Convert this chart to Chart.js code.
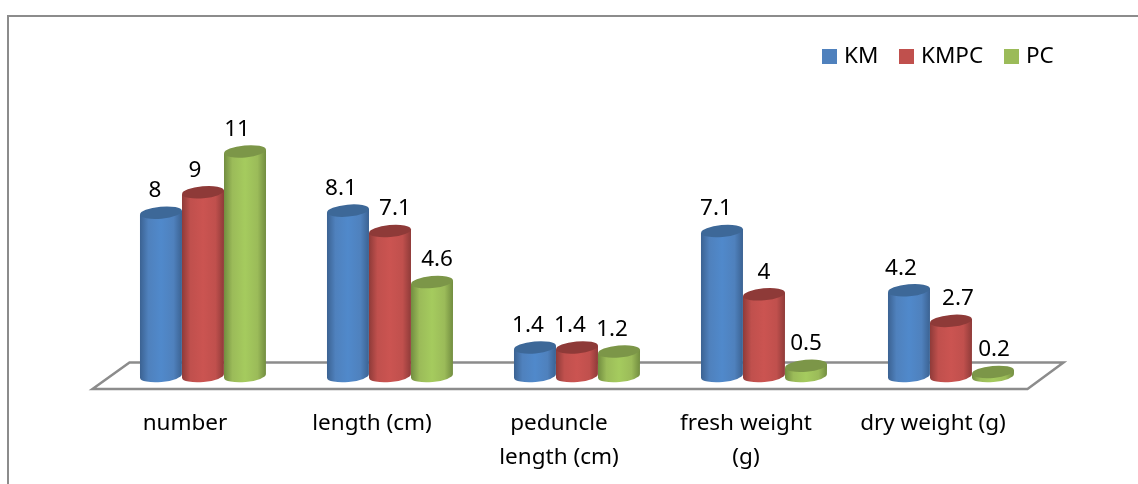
<!DOCTYPE html>
<html>
<head>
<meta charset="utf-8">
<script src="https://cdn.jsdelivr.net/npm/chart.js@4"></script>
<style>
html, body { margin: 0; padding: 0; background: #fff; overflow: hidden; }
canvas { display: block; }
</style>
</head>
<body>
<canvas id="myChart" width="1138" height="484"></canvas>
<script>
const categories = ['number', 'length (cm)', ['peduncle', 'length (cm)'], ['fresh weight', '(g)'], 'dry weight (g)'];
const seriesNames = ['KM', 'KMPC', 'PC'];
const kmValues = [8, 8.1, 1.4, 7.1, 4.2];
const kmpcValues = [9, 7.1, 1.4, 4, 2.7];
const pcValues = [11, 4.6, 1.2, 0.5, 0.2];

// colours per series: legend/centre, edge of the cylinder, top cap
const mainColors = ['#4f81bd', '#c0504d', '#9bbb59'];
const lightColors = ['#5089cb', '#cb5451', '#a5cb5e'];
const edgeColors = ['#3b6292', '#8f3b39', '#728d40'];
const capColors = ['#3d6898', '#8e3a38', '#7c9648'];
const labelFont = '22.5px "Noto Sans"';
const lineGrey = '#8c8c8c';

// sideways shift of each value label, the original moved them by hand
const labelShift = [[-6, -7, -7, -6, -8], [-8, 5, -7, 0, 7], [-8, 5, -7, 0, 1]];

const tilt = -0.09;
const capHeight = 6;

function drawCylinder(ctx, bar, index) {
    const r = bar.width / 2;
    const dy = Math.sin(-tilt) * r;
    const grad = ctx.createLinearGradient(bar.x - r, 0, bar.x + r, 0);
    grad.addColorStop(0, edgeColors[index]);
    grad.addColorStop(0.2, mainColors[index]);
    grad.addColorStop(0.5, lightColors[index]);
    grad.addColorStop(0.8, mainColors[index]);
    grad.addColorStop(1, edgeColors[index]);

    ctx.fillStyle = grad;
    ctx.beginPath();
    ctx.moveTo(bar.x - r, bar.y + dy);
    ctx.lineTo(bar.x - r, bar.base + dy);
    ctx.ellipse(bar.x, bar.base, r, capHeight, tilt, Math.PI, 0, true);
    ctx.lineTo(bar.x + r, bar.y - dy);
    ctx.closePath();
    ctx.fill();

    ctx.fillStyle = capColors[index];
    ctx.beginPath();
    ctx.ellipse(bar.x, bar.y, r, capHeight, tilt, 0, Math.PI * 2);
    ctx.fill();
}

const frameAndFloor = {
    id: 'frameAndFloor',
    beforeDraw(chart) {
        const ctx = chart.ctx;
        const area = chart.chartArea;
        ctx.save();
        ctx.strokeStyle = lineGrey;
        ctx.lineWidth = 2;
        ctx.beginPath();
        ctx.moveTo(8, chart.height);
        ctx.lineTo(8, 16);
        ctx.lineTo(chart.width, 16);
        ctx.stroke();

        ctx.lineWidth = 2.5;
        ctx.beginPath();
        ctx.moveTo(area.left - 17, area.bottom + 13);
        ctx.lineTo(area.right - 17, area.bottom + 13);
        ctx.lineTo(area.right + 19, area.bottom - 13.5);
        ctx.lineTo(area.left + 20, area.bottom - 13.5);
        ctx.closePath();
        ctx.stroke();
        ctx.restore();
    }
};

const cylinders = {
    id: 'cylinders',
    beforeDatasetDraw(chart, args) {
        const ctx = chart.ctx;
        ctx.save();
        args.meta.data.forEach(function (bar) {
            drawCylinder(ctx, bar, args.index);
        });
        ctx.restore();
        return false;
    },
    afterDatasetsDraw(chart) {
        const ctx = chart.ctx;
        ctx.save();
        ctx.font = labelFont;
        ctx.fillStyle = '#000';
        ctx.textAlign = 'center';
        ctx.textBaseline = 'middle';
        chart.data.datasets.forEach(function (ds, i) {
            chart.getDatasetMeta(i).data.forEach(function (bar, j) {
                ctx.fillText(String(ds.data[j]), bar.x + labelShift[i][j], bar.y - 22);
            });
        });
        ctx.restore();
    }
};

const sideLegend = {
    id: 'sideLegend',
    afterDraw(chart) {
        const ctx = chart.ctx;
        const boxX = [822, 899, 1004];
        ctx.save();
        ctx.font = labelFont;
        ctx.textBaseline = 'middle';
        chart.data.datasets.forEach(function (ds, i) {
            ctx.fillStyle = mainColors[i];
            ctx.fillRect(boxX[i], 49, 15, 15);
            ctx.fillStyle = '#000';
            ctx.fillText(ds.label, boxX[i] + 22, 57);
        });
        ctx.restore();
    }
};

const myChart = new Chart(document.getElementById('myChart'), {
    type: 'bar',
    data: {
        labels: categories,
        datasets: [
            { label: seriesNames[0], data: kmValues, backgroundColor: mainColors[0] },
            { label: seriesNames[1], data: kmpcValues, backgroundColor: mainColors[1] },
            { label: seriesNames[2], data: pcValues, backgroundColor: mainColors[2] }
        ]
    },
    options: {
        responsive: false,
        animation: false,
        categoryPercentage: 0.674,
        barPercentage: 1,
        layout: { padding: { left: 109.5, right: 93.5, top: 131, bottom: 0 } },
        plugins: { legend: { display: false }, tooltip: { enabled: false } },
        scales: {
            x: {
                grid: { display: false },
                border: { display: false },
                afterFit(scale) { scale.height = 108; },
                ticks: {
                    color: '#000',
                    font: { family: 'Noto Sans', size: 22.5, lineHeight: 1.51 },
                    padding: 23,
                    labelOffset: -18,
                    maxRotation: 0,
                    autoSkip: false
                }
            },
            y: { display: false, min: 0, max: 12 }
        }
    },
    plugins: [frameAndFloor, cylinders, sideLegend]
});
</script>
</body>
</html>
